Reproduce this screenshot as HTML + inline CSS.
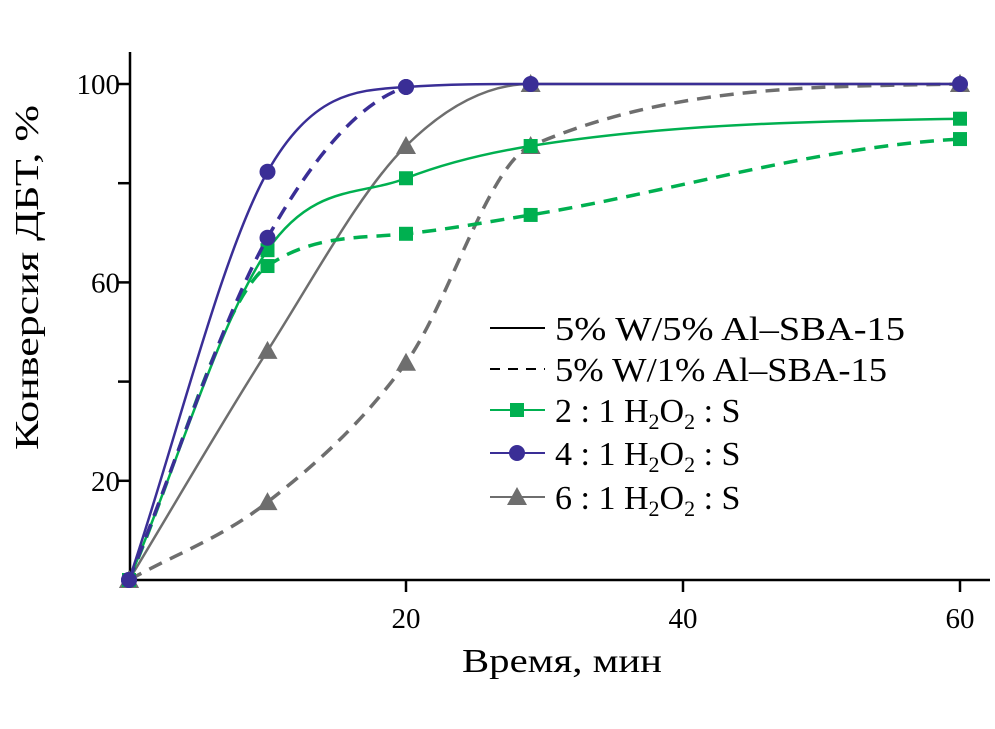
<!DOCTYPE html>
<html><head><meta charset="utf-8"><style>
body{margin:0;background:#fff}
svg{display:block;font-family:"Liberation Serif",serif}
</style></head><body>
<svg id="chart" width="995" height="729">
<g id="axes"></g>
<g id="series"></g>
<text x="462" y="672" font-size="34" textLength="200" lengthAdjust="spacingAndGlyphs">Время, мин</text>
<text transform="translate(38,450) rotate(-90)" font-size="34" textLength="345" lengthAdjust="spacingAndGlyphs">Конверсия ДБТ, %</text>
<g id="legend" font-size="34">
 <g><line x1="490" y1="328" x2="545" y2="328" stroke="#000" stroke-width="2"/><text x="555" y="340" textLength="350" lengthAdjust="spacingAndGlyphs">5% W/5% Al–SBA-15</text></g>
 <g><line x1="490" y1="369" x2="545" y2="369" stroke="#000" stroke-width="2" stroke-dasharray="10,8"/><text x="555" y="381" textLength="332" lengthAdjust="spacingAndGlyphs">5% W/1% Al–SBA-15</text></g>
 <g><line x1="490" y1="410" x2="545" y2="410" stroke="#00b050" stroke-width="2"/><rect x="510" y="403" width="14" height="14" fill="#00b050"/><text x="555" y="422">2 : 1 H<tspan font-size="22" dy="7">2</tspan><tspan dy="-7">O</tspan><tspan font-size="22" dy="7">2</tspan><tspan dy="-7"> : S</tspan></text></g>
 <g><line x1="490" y1="453" x2="545" y2="453" stroke="#3a2e96" stroke-width="2"/><circle cx="517" cy="453" r="8" fill="#3a2e96"/><text x="555" y="465">4 : 1 H<tspan font-size="22" dy="7">2</tspan><tspan dy="-7">O</tspan><tspan font-size="22" dy="7">2</tspan><tspan dy="-7"> : S</tspan></text></g>
 <g><line x1="490" y1="497" x2="545" y2="497" stroke="#6e6e6e" stroke-width="2"/><polygon points="517,487 527,505 507,505" fill="#6e6e6e"/><text x="555" y="509">6 : 1 H<tspan font-size="22" dy="7">2</tspan><tspan dy="-7">O</tspan><tspan font-size="22" dy="7">2</tspan><tspan dy="-7"> : S</tspan></text></g>
</g>
</svg>
<script>
const times=[0,10,20,29,60];
const green51=[0,66.5,81,87.5,93];
const green11=[0,63.3,69.8,73.6,88.9];
const blue51=[0,82.3,99.4,100,100];
const blue11=[0,69,99.4];
const gray51=[0,46.2,87.5,100,100];
const gray11=[0,15.7,43.8,87.5,100];
const xTicks=[20,40,60];
const yTicks=[20,40,60,80,100];
const yLabels=["20","","60","","100"];

const NS="http://www.w3.org/2000/svg";
const X=t=>129+t*13.85, Y=v=>580-v*4.96;
function mk(tag,attrs,parent){const e=document.createElementNS(NS,tag);for(const k in attrs)e.setAttribute(k,attrs[k]);parent.appendChild(e);return e;}
const axes=document.getElementById('axes'), ser=document.getElementById('series');
let a=mk('line',{x1:130,y1:52,x2:130,y2:580,stroke:'#000','stroke-width':2.5},axes);


a=mk('line',{x1:130,y1:580,x2:990,y2:580,stroke:'#000','stroke-width':2.5},axes);


xTicks.forEach(t=>{
 const l=mk('line',{x1:X(t),y1:580,x2:X(t),y2:592,stroke:'#000','stroke-width':2.5},axes);
 
 
 const tx=mk('text',{x:X(t),y:628,'font-size':29,'text-anchor':'middle'},axes);tx.textContent=t;
 
 
});
yTicks.forEach((v,i)=>{
 const l=mk('line',{x1:118,y1:Y(v),x2:130,y2:Y(v),stroke:'#000','stroke-width':2.5},axes);
 
 
 if(yLabels[i]){const tx=mk('text',{x:120,y:Y(v)+10,'font-size':29,'text-anchor':'end'},axes);tx.textContent=yLabels[i];
 
 }
});
function pathFor(vals){
 const p=vals.map((v,i)=>[X(times[i]),Y(v)]);const n=p.length;
 const d=[],m=[];
 for(let i=0;i<n-1;i++)d.push((p[i+1][1]-p[i][1])/(p[i+1][0]-p[i][0]));
 for(let i=0;i<n;i++){if(i==0)m.push(d[0]);else if(i==n-1)m.push(d[n-2]*0.3);else m.push(d[i-1]*d[i]<=0?0:(d[i-1]+d[i])/2);}
 for(let i=0;i<n-1;i++){
  if(d[i]===0){m[i]=0;m[i+1]=0;continue;}
  const al=m[i]/d[i],be=m[i+1]/d[i],s=al*al+be*be;
  if(s>9){const t=3/Math.sqrt(s);m[i]=t*al*d[i];m[i+1]=t*be*d[i];}
 }
 let s=`M${p[0][0]},${p[0][1]}`;
 for(let i=0;i<n-1;i++){const h=(p[i+1][0]-p[i][0])/3;
  s+=` C${p[i][0]+h},${p[i][1]+m[i]*h} ${p[i+1][0]-h},${p[i+1][1]-m[i+1]*h} ${p[i+1][0]},${p[i+1][1]}`;}
 return s;
}
function marker(type,x,y,col){
 if(type==='sq')return mk('rect',{x:x-7,y:y-7,width:14,height:14,fill:col},ser);
 if(type==='c')return mk('circle',{cx:x,cy:y,r:8,fill:col},ser);
 return mk('polygon',{points:`${x},${y-10} ${x+10},${y+8} ${x-10},${y+8}`,fill:col},ser);
}
function draw(vals,col,dash,type,name){
 const p=mk('path',{d:pathFor(vals),fill:'none',stroke:col,'stroke-width':dash?3.5:2.5,'stroke-dasharray':dash?'14,9':'none'},ser);
 
 
 vals.forEach((v,i)=>{const mm=marker(type,X(times[i]),Y(v),col);
  
  });
}
draw(gray11,'#6e6e6e',true,'t','gray-5w1al');
draw(gray51,'#6e6e6e',false,'t','gray-5w5al');
draw(green11,'#00b050',true,'sq','green-5w1al');
draw(green51,'#00b050',false,'sq','green-5w5al');
draw(blue11,'#3a2e96',true,'c','blue-5w1al');
draw(blue51,'#3a2e96',false,'c','blue-5w5al');
</script>
</body></html>
